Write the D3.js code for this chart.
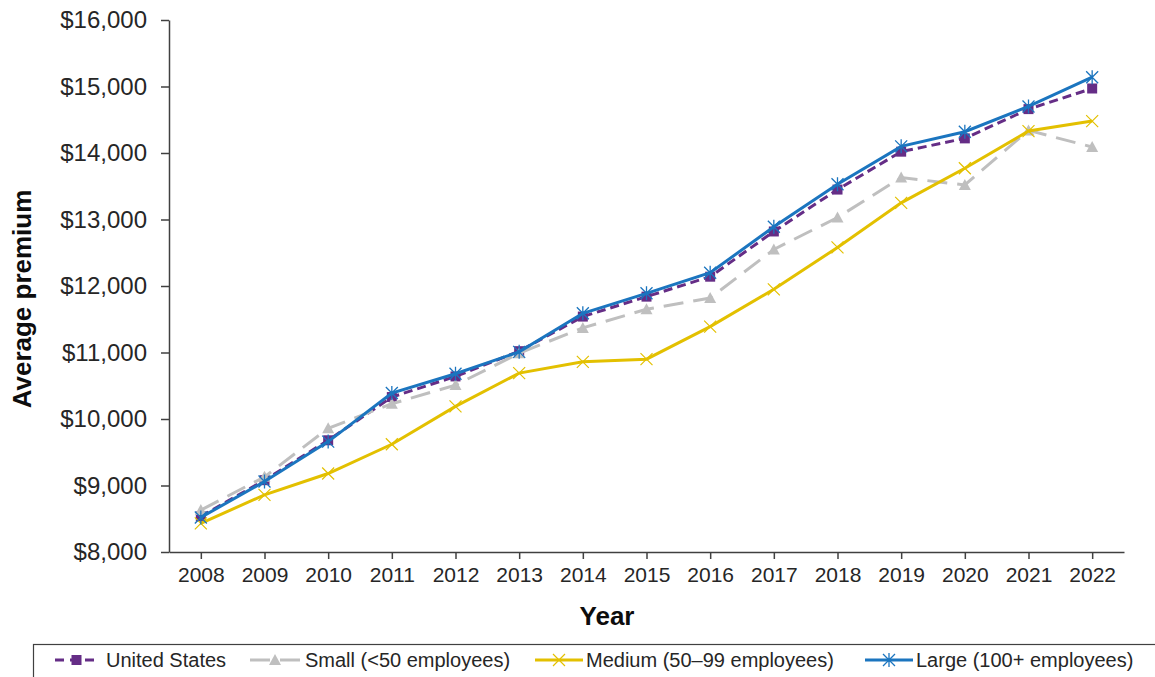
<!DOCTYPE html>
<html>
<head>
<meta charset="utf-8">
<script src="https://cdn.jsdelivr.net/npm/d3@7"></script>
<style>
    body { margin: 0; background: #fff; }
    svg { display: block; font-family: Arial, "Liberation Sans", sans-serif; }
    .axis path, .axis line { stroke: #404040; stroke-width: 1.5; }
    .axis text { fill: #262626; }
</style>
</head>
<body>
<div class="line-chart"></div>
<script>
'use strict'

// Data.
const years = [2008, 2009, 2010, 2011, 2012, 2013, 2014, 2015, 2016, 2017, 2018, 2019, 2020, 2021, 2022];
const unitedStates = [8535, 9080, 9680, 10330, 10640, 11020, 11540, 11840, 12140, 12820, 13450, 14020, 14220, 14660, 14970];
const small = [8630, 9130, 9860, 10230, 10510, 10990, 11370, 11650, 11820, 12550, 13030, 13630, 13520, 14340, 14090];
const medium = [8430, 8860, 9180, 9620, 10190, 10690, 10860, 10900, 11390, 11950, 12580, 13250, 13770, 14330, 14480];
const large = [8520, 9060, 9660, 10390, 10680, 11010, 11590, 11890, 12200, 12890, 13530, 14100, 14320, 14700, 15140];
const yTicks = [8000, 9000, 10000, 11000, 12000, 13000, 14000, 15000, 16000];
const seriesNames = ['United States', 'Small (<50 employees)', 'Medium (50\u201399 employees)', 'Large (100+ employees)'];

// Series styles.
const series = [
    {name: seriesNames[0], values: unitedStates, colour: '#652d86', dash: '9,5', marker: 'square'},
    {name: seriesNames[1], values: small, colour: '#bfbfbf', dash: '20,10', marker: 'triangle'},
    {name: seriesNames[2], values: medium, colour: '#e3c000', dash: null, marker: 'cross'},
    {name: seriesNames[3], values: large, colour: '#1b75bf', dash: null, marker: 'star'}
];

// Dimensions and Constants
let width = 1155,
    height = 677,
    margin = {top: 20, right: 31, bottom: 125, left: 169};

let svg = d3.select('.line-chart')
    .append('svg')
    .attr('width', width)
    .attr('height', height);

// Build scales.
let x = d3.scalePoint()
    .domain(years)
    .range([margin.left, width - margin.right])
    .padding(0.5);

let y = d3.scaleLinear()
    .domain([8000, 16000])
    .range([height - margin.bottom, margin.top]);

// Axes.
let yAxis = d3.axisLeft(y)
    .tickValues(yTicks)
    .tickSize(8)
    .tickSizeOuter(0)
    .tickPadding(14)
    .tickFormat(d => '$' + d3.format(',')(d));

svg.append('g')
    .attr('class', 'axis yAxis')
    .attr('transform', `translate(${margin.left}, 0)`)
    .call(yAxis)
    .selectAll('text')
    .style('font-size', '24px');

let xAxis = d3.axisBottom(x)
    .tickSize(7)
    .tickSizeOuter(0)
    .tickPadding(8);

svg.append('g')
    .attr('class', 'axis xAxis')
    .attr('transform', `translate(0, ${height - margin.bottom})`)
    .call(xAxis)
    .selectAll('text')
    .style('font-size', '21px');

// Axis titles.
svg.append('text')
    .attr('x', 607)
    .attr('y', 625)
    .attr('text-anchor', 'middle')
    .style('font-size', '26px')
    .style('font-weight', 'bold')
    .attr('fill', '#0d0d0d')
    .text('Year');

svg.append('text')
    .attr('transform', 'translate(31, 299) rotate(-90)')
    .attr('text-anchor', 'middle')
    .style('font-size', '26px')
    .style('font-weight', 'bold')
    .attr('fill', '#0d0d0d')
    .text('Average premium');

// Marker shapes.
function drawMarker(g, type, colour) {
    if (type === 'square') {
        g.append('rect')
            .attr('x', -5).attr('y', -5)
            .attr('width', 10).attr('height', 10)
            .attr('fill', colour);
    } else if (type === 'triangle') {
        g.append('path')
            .attr('d', 'M0,-6L6,5L-6,5Z')
            .attr('fill', colour);
    } else if (type === 'cross') {
        g.append('path')
            .attr('d', 'M-6,-6L6,6M-6,6L6,-6')
            .attr('stroke', colour)
            .attr('stroke-width', 1.2);
    } else {
        g.append('path')
            .attr('d', 'M-6,-6L6,6M-6,6L6,-6M0,-7L0,7')
            .attr('stroke', colour)
            .attr('stroke-width', 1.3);
    }
}

let line = d3.line()
    .x(d => x(d.year))
    .y(d => y(d.value));

// Append lines and markers.
series.forEach(s => {
    let points = years.map((yr, i) => ({year: yr, value: s.values[i]}));
    let g = svg.append('g').attr('class', 'series');

    g.append('path')
        .datum(points)
        .attr('fill', 'none')
        .attr('stroke', s.colour)
        .attr('stroke-width', 3)
        .attr('stroke-dasharray', s.dash)
        .attr('d', line);

    g.selectAll('g.marker')
        .data(points)
        .join('g')
        .attr('class', 'marker')
        .attr('transform', d => `translate(${x(d.year)}, ${y(d.value)})`)
        .each(function() { drawMarker(d3.select(this), s.marker, s.colour); });
});

// Legend.
let legendItems = [
    {x0: 55, x1: 98, tx: 106},
    {x0: 250, x1: 300, tx: 305},
    {x0: 535, x1: 583, tx: 586},
    {x0: 865, x1: 913, tx: 916}
];

let legend = svg.append('g').attr('class', 'legend');

legend.append('rect')
    .attr('x', 33.5)
    .attr('y', 644.5)
    .attr('width', 1140)
    .attr('height', 60)
    .attr('fill', 'none')
    .attr('stroke', '#404040')
    .attr('stroke-width', 1.2);

series.forEach((s, i) => {
    let item = legendItems[i];
    let ly = 660;
    legend.append('line')
        .attr('x1', item.x0).attr('x2', item.x1)
        .attr('y1', ly).attr('y2', ly)
        .attr('stroke', s.colour)
        .attr('stroke-width', 3)
        .attr('stroke-dasharray', s.dash ? (i === 0 ? '9,6' : '20,10') : null);
    let m = legend.append('g')
        .attr('transform', `translate(${(item.x0 + item.x1) / 2}, ${ly})`);
    drawMarker(m, s.marker, s.colour);
    legend.append('text')
        .attr('x', item.tx)
        .attr('y', 667)
        .style('font-size', '20px')
        .attr('fill', '#262626')
        .text(s.name);
});
</script>
</body>
</html>
